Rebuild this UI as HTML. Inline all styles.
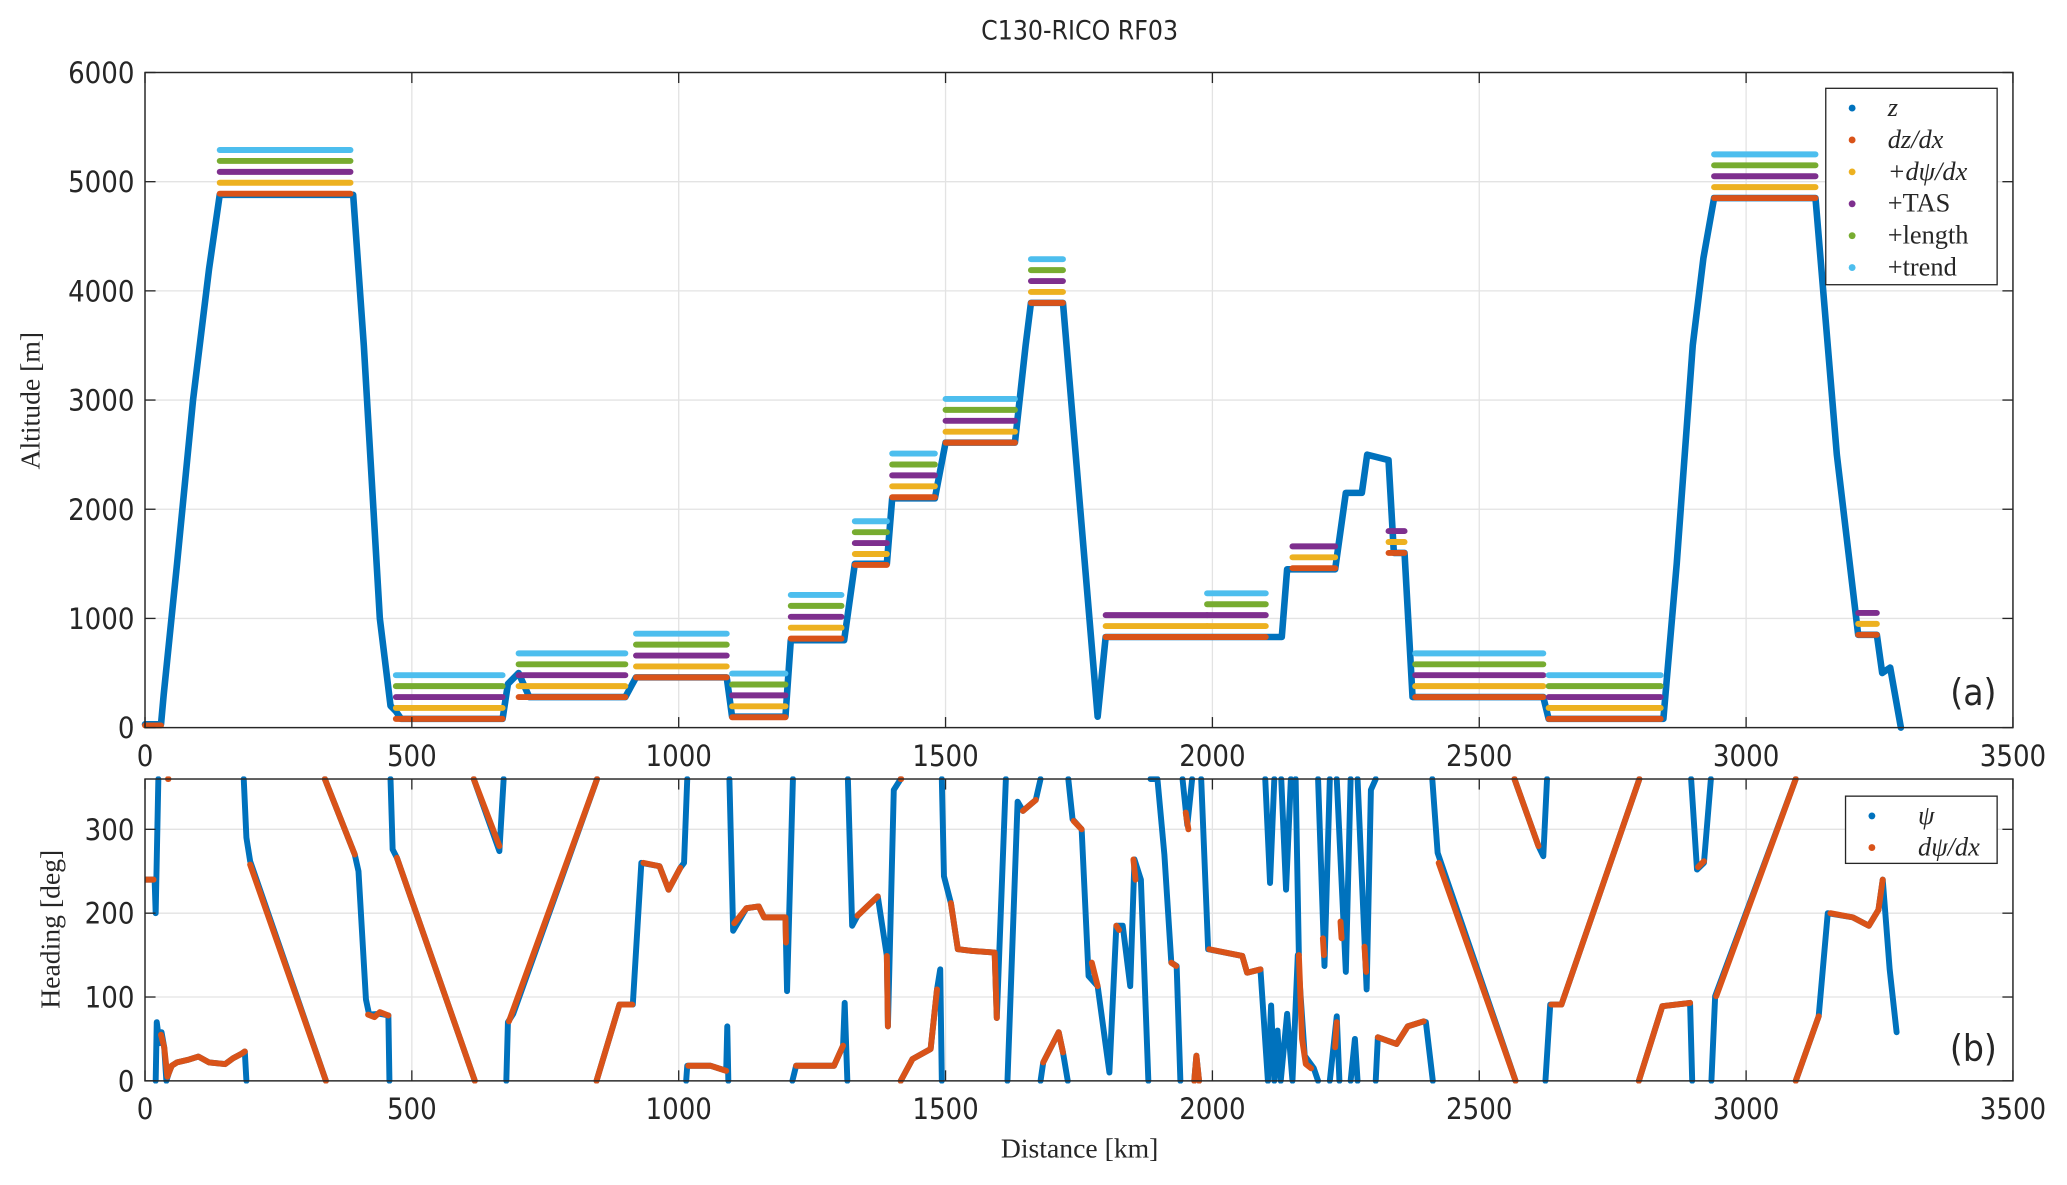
<!DOCTYPE html>
<html><head><meta charset="utf-8"><title>C130-RICO RF03</title>
<style>
html,body{margin:0;padding:0;background:#fff;}
svg{display:block;}
.tick{font-family:"DejaVu Sans Condensed","Liberation Sans",sans-serif;font-size:22px;fill:#262626;}
.ser{font-family:"Liberation Serif","DejaVu Serif",serif;fill:#262626;}
</style></head>
<body>
<svg id="fig" width="2067" height="1185" viewBox="0 0 1568 899" preserveAspectRatio="none" xmlns="http://www.w3.org/2000/svg">
<rect width="1568" height="899" fill="#fff"/>
<text x="819" y="30" text-anchor="middle" class="tick" style="font-size:20px">C130-RICO RF03</text>
<g id="topPanel"></g>
<g id="botPanel"></g>
<text x="30" y="304" transform="rotate(-90 30 304)" text-anchor="middle" class="ser" style="font-size:21px">Altitude [m]</text>
<text x="45" y="705" transform="rotate(-90 45 705)" text-anchor="middle" class="ser" style="font-size:21px">Heading [deg]</text>
<text x="819" y="878" text-anchor="middle" class="ser" style="font-size:21px">Distance [km]</text>
<text x="1497" y="535" text-anchor="middle" class="tick" style="font-size:28px">(a)</text>
<text x="1497" y="805" text-anchor="middle" class="tick" style="font-size:28px">(b)</text>
</svg>
<script>
// ---- data ----
const xTicks=[0,500,1000,1500,2000,2500,3000,3500];
const altTicks=[0,1000,2000,3000,4000,5000,6000];
const hdgTicks=[0,100,200,300];
const zDist=[0,30,35,60,90,120,140,390,410,440,460,470,480,670,680,700,720,900,920,1090,1100,1200,1210,1310,1330,1390,1400,1480,1500,1630,1650,1660,1720,1785,1800,2130,2140,2230,2250,2280,2290,2330,2340,2360,2375,2620,2630,2845,2870,2900,2920,2940,3130,3170,3210,3245,3255,3270,3290];
const zAlt=[30,30,300,1500,3000,4200,4880,4880,3500,1000,200,150,80,80,400,500,280,280,460,460,100,100,800,800,1500,1500,2100,2100,2610,2610,3500,3890,3890,100,830,830,1450,1450,2150,2150,2500,2450,1600,1600,280,280,80,80,1500,3500,4300,4850,4850,2500,850,850,500,550,0];
const legStart=[0,140,470,700,920,1100,1210,1330,1400,1500,1660,1800,1990,2150,2330,2380,2630,2940,3210];
const legEnd=[30,385,670,900,1090,1200,1305,1390,1480,1630,1720,1990,2100,2230,2360,2620,2840,3130,3245];
const legBase=[20,4890,80,280,460,95,815,1490,2110,2610,3890,830,830,1460,1600,280,80,4850,850];
const legLevels=[1,5,5,5,5,5,5,5,5,5,5,3,5,3,3,5,5,5,3];
const levelStep=100;
const psiSegs=[
[0,240,18,240,20,200,25,360],
[20,0,22,70,27,45,31,58,36,40,40,0,45,10,50,18,60,22,80,25,100,29,120,22,150,20,165,27,180,32,187,35,190,0],
[185,360,190,290,197,262,339,0],
[337,360,393,270,400,250,414,97,420,79,440,80,456,78,458,0],
[460,360,464,276,472,266,618,0],
[616,360,664,274,672,360],
[677,0,680,70,690,80,847,360],
[846,0,889,91,914,91,930,260,964,256,981,228,1003,254,1010,260,1016,360],
[1014,0,1016,18,1060,18,1089,12,1091,65,1093,0],
[1095,360,1102,179,1127,206,1150,208,1160,195,1200,195,1203,107,1214,360],
[1213,0,1220,18,1291,18,1308,42,1311,93,1316,0],
[1317,360,1325,185,1335,197,1373,220,1390,149,1392,65,1403,347,1416,360],
[1416,0,1438,26,1472,38,1484,109,1490,133,1493,0],
[1493,360,1497,244,1510,212,1523,157,1550,155,1592,153,1596,75,1613,360],
[1616,0,1635,333,1645,322,1669,335,1678,360],
[1678,0,1683,22,1712,58,1720,34,1729,0],
[1730,360,1738,312,1755,300,1768,125,1785,113,1807,10,1820,185,1832,185,1846,113,1854,264,1866,240,1880,0],
[1884,360,1897,360,1910,270,1923,141,1933,137,1940,0],
[1944,360,1953,305,1962,360],
[1966,0,1970,30,1975,0],
[1979,360,1992,157,2056,149,2065,129,2090,133,2104,0],
[2099,360,2108,236,2116,360],
[2129,360,2138,228,2147,360],
[2104,0,2110,90,2116,0,2122,60,2128,0,2140,80,2150,0,2160,150,2173,30,2190,15,2198,0],
[2156,360,2162,150],
[2198,360,2210,137,2220,360],
[2233,360,2250,130,2259,360],
[2272,360,2289,109,2297,347,2306,360],
[2220,0,2233,77,2238,0],
[2259,0,2267,50,2272,0],
[2306,0,2310,52,2345,44,2366,65,2396,71,2400,70,2413,0],
[2412,360,2422,272,2568,0],
[2566,360,2611,280,2620,268,2627,360],
[2624,0,2633,91,2654,91,2800,360],
[2799,0,2843,89,2895,93,2899,0],
[2897,360,2908,252,2921,260,2934,360],
[2935,0,2942,101,3093,360],
[3093,0,3136,77,3153,200,3200,195,3230,185,3248,204,3256,240,3269,133,3282,58]
];
const dpsiSegs=[
[0,240,16,240],[43,360,44,360],
[30,55,36,40,42,5,45,10,50,18,60,22,80,25,100,29,120,22,150,20,165,27,180,32,187,35],
[197,258,339,0],[337,360,393,270],[418,79,430,76,440,82,456,78],
[472,266,618,0],[616,360,664,280],[682,71,847,360],
[846,0,889,91,913,91],[934,260,964,256,981,228,1003,254],
[1018,18,1060,18,1089,12],
[1104,188,1127,206,1150,208,1160,195,1200,195,1201,165],
[1220,18,1291,18,1308,42],
[1335,197,1373,220],[1390,149,1392,65],[1416,360,1417,360],
[1416,0,1438,26,1472,38,1484,109],
[1510,212,1523,157,1550,155,1592,153,1596,75],
[1645,322,1669,335],[1683,22,1712,58,1720,34],
[1740,310,1755,300],[1774,141,1785,113],[1852,264,1856,240],[1820,185,1825,180],
[1923,141,1932,137],[1950,320,1955,300],[1966,0,1970,30,1975,0],
[1994,157,2056,149,2065,129,2090,133],
[2162,150,2168,50,2175,20,2185,15],
[2207,170,2209,150],[2240,190,2242,170],[2285,160,2288,130],[2230,40,2233,70],
[2310,52,2345,44,2366,65,2396,71],
[2424,260,2568,0],[2566,360,2611,280],[2635,91,2654,91,2800,360],
[2799,0,2843,89,2895,93],[2910,255,2921,262],[2944,101,3093,360],
[3093,0,3136,77],[3158,200,3200,195,3230,185,3248,204,3256,240]
];
const levelColors=["#D95319","#EDB120","#7E2F8E","#77AC30","#4DBEEE"];
const legendLabels=["z","dz/dx","+dψ/dx","+TAS","+length","+trend"];
const legendColors=["#0072BD","#D95319","#EDB120","#7E2F8E","#77AC30","#4DBEEE"];
const legend2Labels=["ψ","dψ/dx"];
const legend2Colors=["#0072BD","#D95319"];

// ---- layout ----
const NS="http://www.w3.org/2000/svg";
const L=110,R=1527,T1=55,B1=552,T2=591,B2=820;
const xs=v=>L+(v-0)/3500*(R-L);
const ya=v=>B1-v/6000*(B1-T1);
const yh=v=>B2-v/360*(B2-T2);
function mk(tag,parent,attrs){const e=document.createElementNS(NS,tag);for(const k in attrs)e.setAttribute(k,attrs[k]);parent.appendChild(e);return e;}

function axes(g,T,B,yt,yf,prefix){
  mk('rect',g,{x:L,y:T,width:R-L,height:B-T,fill:'#fff'});
  xTicks.forEach(t=>{const l=mk('line',g,{x1:xs(t),x2:xs(t),y1:T,y2:B,stroke:'#e3e3e3','stroke-width':1});
    
    });
  yt.forEach(t=>{const l=mk('line',g,{x1:L,x2:R,y1:yf(t),y2:yf(t),stroke:'#e3e3e3','stroke-width':1});
    
    });
}
function frame(g,T,B,yt,yf,prefix){
  const f=mk('rect',g,{x:L,y:T,width:R-L,height:B-T,fill:'none',stroke:'#262626','stroke-width':1.1});
  
  
  xTicks.forEach(t=>{
    mk('line',g,{x1:xs(t),x2:xs(t),y1:B,y2:B-8,stroke:'#262626','stroke-width':1});
    mk('line',g,{x1:xs(t),x2:xs(t),y1:T,y2:T+8,stroke:'#262626','stroke-width':1});
    const tx=mk('text',g,{x:xs(t),y:B+29,'text-anchor':'middle',class:'tick'});tx.textContent=t;
    
    
  });
  yt.forEach(t=>{
    mk('line',g,{x1:L,x2:L+8,y1:yf(t),y2:yf(t),stroke:'#262626','stroke-width':1});
    mk('line',g,{x1:R,x2:R-8,y1:yf(t),y2:yf(t),stroke:'#262626','stroke-width':1});
    const tx=mk('text',g,{x:L-8,y:yf(t)+8,'text-anchor':'end',class:'tick'});tx.textContent=t;
    
    
  });
}
function poly(g,pts,color,w){
  return mk('polyline',g,{points:pts.join(' '),fill:'none',stroke:color,'stroke-width':w,'stroke-linecap':'round','stroke-linejoin':'round'});
}

// ---- top panel ----
const topG=document.getElementById('topPanel');
axes(topG,T1,B1,altTicks,ya,'altitude');
const gz=mk('g',topG,{});
{const pts=zDist.map((d,i)=>xs(d)+','+ya(zAlt[i]));
 const p=poly(gz,pts,'#0072BD',5);
 
 }
legStart.forEach((s,i)=>{
  for(let k=0;k<legLevels[i];k++){
    const v=legBase[i]+k*levelStep;
    const l=mk('line',gz,{x1:xs(s),x2:xs(legEnd[i]),y1:ya(v),y2:ya(v),stroke:levelColors[k],'stroke-width':4.5,'stroke-linecap':'round'});
    
    
  }
});
frame(topG,T1,B1,altTicks,ya,'altitude');
{const lg=mk('g',topG,{});
 
 
 mk('rect',lg,{x:1385,y:67,width:130,height:149,fill:'#fff',stroke:'#262626','stroke-width':1});
 legendLabels.forEach((lab,i)=>{
  const y=82+i*24.2;
  mk('circle',lg,{cx:1405,cy:y,r:2.6,fill:legendColors[i]});
  const t=mk('text',lg,{x:1432,y:y+6,class:'ser',style:'font-size:20px;font-style:'+(i<3?'italic':'normal')});
  t.textContent=lab;
  
  
 });}

// ---- bottom panel ----
const botG=document.getElementById('botPanel');
axes(botG,T2,B2,hdgTicks,yh,'heading');
const clip=mk('clipPath',botG,{id:'c2'});mk('rect',clip,{x:L,y:T2-2,width:R-L,height:B2-T2+4});
const gh=mk('g',botG,{});
gh.setAttribute('clip-path','url(#c2)');
psiSegs.forEach(seg=>{const pts=[];for(let i=0;i<seg.length;i+=2)pts.push(xs(seg[i])+','+yh(seg[i+1]));
  const p=poly(gh,pts,'#0072BD',4.5);
  
  });
dpsiSegs.forEach(seg=>{const pts=[];for(let i=0;i<seg.length;i+=2)pts.push(xs(seg[i])+','+yh(seg[i+1]));
  const p=poly(gh,pts,'#D95319',4.5);
  
  });
frame(botG,T2,B2,hdgTicks,yh,'heading');
{const lg=mk('g',botG,{});
 
 
 mk('rect',lg,{x:1400,y:604,width:115,height:51,fill:'#fff',stroke:'#262626','stroke-width':1});
 legend2Labels.forEach((lab,i)=>{
  const y=619+i*24;
  mk('circle',lg,{cx:1420,cy:y,r:2.6,fill:legend2Colors[i]});
  const t=mk('text',lg,{x:1455,y:y+6,class:'ser',style:'font-size:20px;font-style:italic'});
  t.textContent=lab;
  
  
 });}
</script>
</body></html>
